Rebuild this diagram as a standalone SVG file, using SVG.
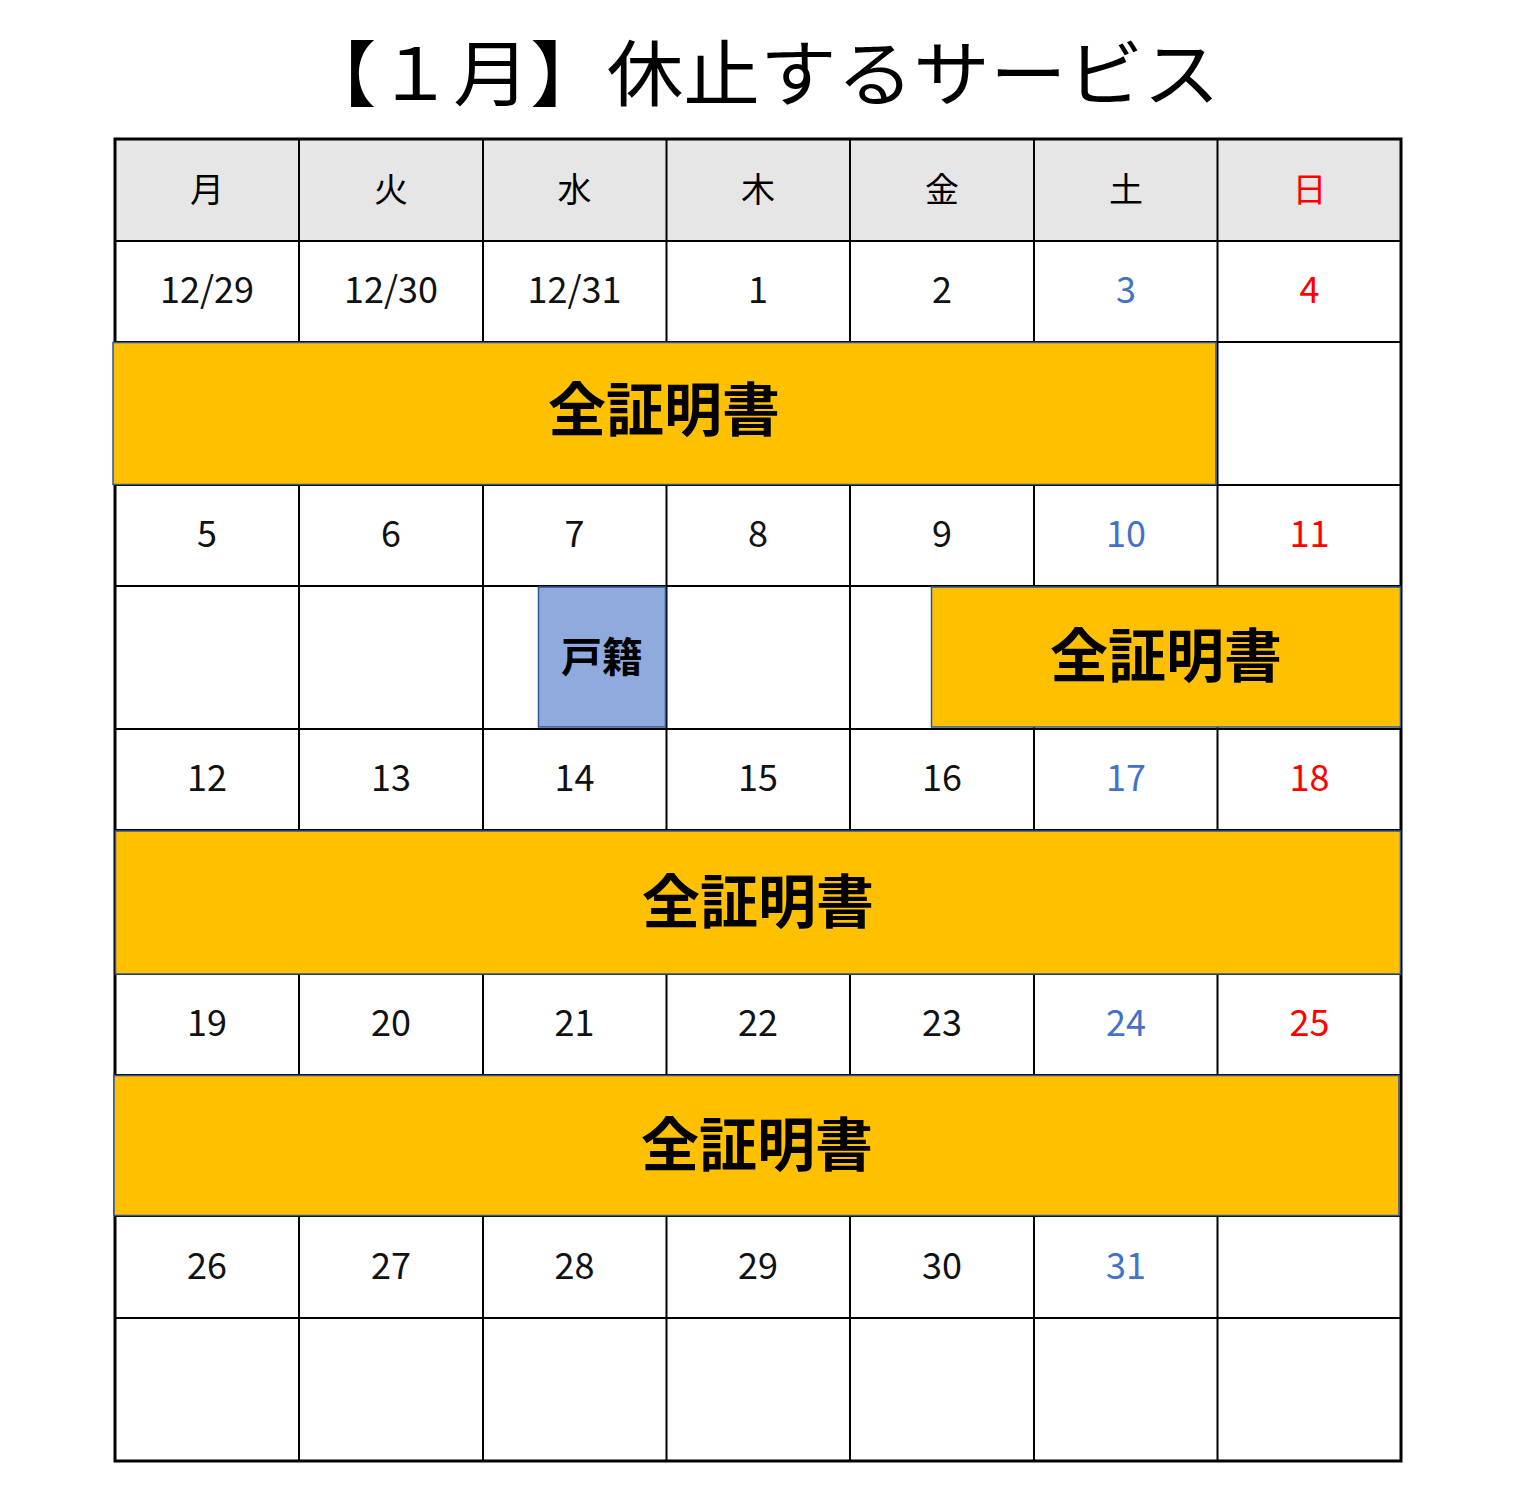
<svg xmlns="http://www.w3.org/2000/svg" width="1517" height="1501" viewBox="0 0 1517 1501">
<style>
.t{font-family:"Noto Sans CJK JP","Noto Sans",sans-serif;text-anchor:middle}
.title{font-size:72px;fill:#000}
.wd{font-size:34px;fill:#000}
.num{font-size:36px;fill:#111}
.sat{fill:#4472C4}
.sun{fill:#FF0000}
.band{fill:#FFC000;stroke:#2F5597;stroke-width:1.5}
.koseki{fill:#8FAADC;stroke:#2F5597;stroke-width:1.5}
.bl{font-size:58px;font-weight:700;fill:#000}
.bs{font-size:41px;font-weight:700;fill:#000}
.g{stroke:#000;stroke-width:2;fill:none}
</style>
<rect width="1517" height="1501" fill="#fff"/>
<g id="title"><text class="t title" x="760" y="100" textLength="920" lengthAdjust="spacingAndGlyphs">【１月】休止するサービス</text></g>
<g id="header">
<rect x="115" y="139" width="1286" height="102" fill="#E7E6E6"/>
<text class="t wd" x="207" y="202">月</text>
<text class="t wd" x="391" y="202">火</text>
<text class="t wd" x="574.5" y="202">水</text>
<text class="t wd" x="758" y="202">木</text>
<text class="t wd" x="942" y="202">金</text>
<text class="t wd" x="1126" y="202">土</text>
<text class="t wd sun" x="1309.5" y="202">日</text>
</g>
<g id="grid" class="g">
<path d="M115 241H1401M115 342H1401M115 485H1401M115 586H1401M115 729H1401M115 830H1401M115 974H1401M115 1075H1401M115 1216H1401M115 1318H1401"/>
<path d="M299 139V1461M483 139V1461M666.5 139V1461M850 139V1461M1034 139V1461M1217.5 139V1461"/>
<rect x="115" y="139" width="1286" height="1322" stroke-width="3"/>
</g>
<g id="dates">
<text class="t num" x="207" y="303">12/29</text>
<text class="t num" x="391" y="303">12/30</text>
<text class="t num" x="574.5" y="303">12/31</text>
<text class="t num" x="758" y="303">1</text>
<text class="t num" x="942" y="303">2</text>
<text class="t num sat" x="1126" y="303">3</text>
<text class="t num sun" x="1309.5" y="303">4</text>
<text class="t num" x="207" y="547">5</text>
<text class="t num" x="391" y="547">6</text>
<text class="t num" x="574.5" y="547">7</text>
<text class="t num" x="758" y="547">8</text>
<text class="t num" x="942" y="547">9</text>
<text class="t num sat" x="1126" y="547">10</text>
<text class="t num sun" x="1309.5" y="547">11</text>
<text class="t num" x="207" y="791">12</text>
<text class="t num" x="391" y="791">13</text>
<text class="t num" x="574.5" y="791">14</text>
<text class="t num" x="758" y="791">15</text>
<text class="t num" x="942" y="791">16</text>
<text class="t num sat" x="1126" y="791">17</text>
<text class="t num sun" x="1309.5" y="791">18</text>
<text class="t num" x="207" y="1036">19</text>
<text class="t num" x="391" y="1036">20</text>
<text class="t num" x="574.5" y="1036">21</text>
<text class="t num" x="758" y="1036">22</text>
<text class="t num" x="942" y="1036">23</text>
<text class="t num sat" x="1126" y="1036">24</text>
<text class="t num sun" x="1309.5" y="1036">25</text>
<text class="t num" x="207" y="1279">26</text>
<text class="t num" x="391" y="1279">27</text>
<text class="t num" x="574.5" y="1279">28</text>
<text class="t num" x="758" y="1279">29</text>
<text class="t num" x="942" y="1279">30</text>
<text class="t num sat" x="1126" y="1279">31</text>
</g>
<g id="band1"><rect class="band" x="113" y="342.5" width="1103" height="142"/><text class="t bl" x="664" y="431">全証明書</text></g>
<g id="koseki"><rect class="koseki" x="538.5" y="587" width="127" height="140"/><text class="t bs" x="602" y="672">戸籍</text></g>
<g id="band2"><rect class="band" x="931.5" y="587" width="469" height="140"/><text class="t bl" x="1166" y="677">全証明書</text></g>
<g id="band3"><rect class="band" x="115.5" y="831" width="1285" height="143"/><text class="t bl" x="758" y="923">全証明書</text></g>
<g id="band4"><rect class="band" x="114" y="1075.5" width="1285" height="140"/><text class="t bl" x="757" y="1166">全証明書</text></g>
<g id="connectors"/>
</svg>
